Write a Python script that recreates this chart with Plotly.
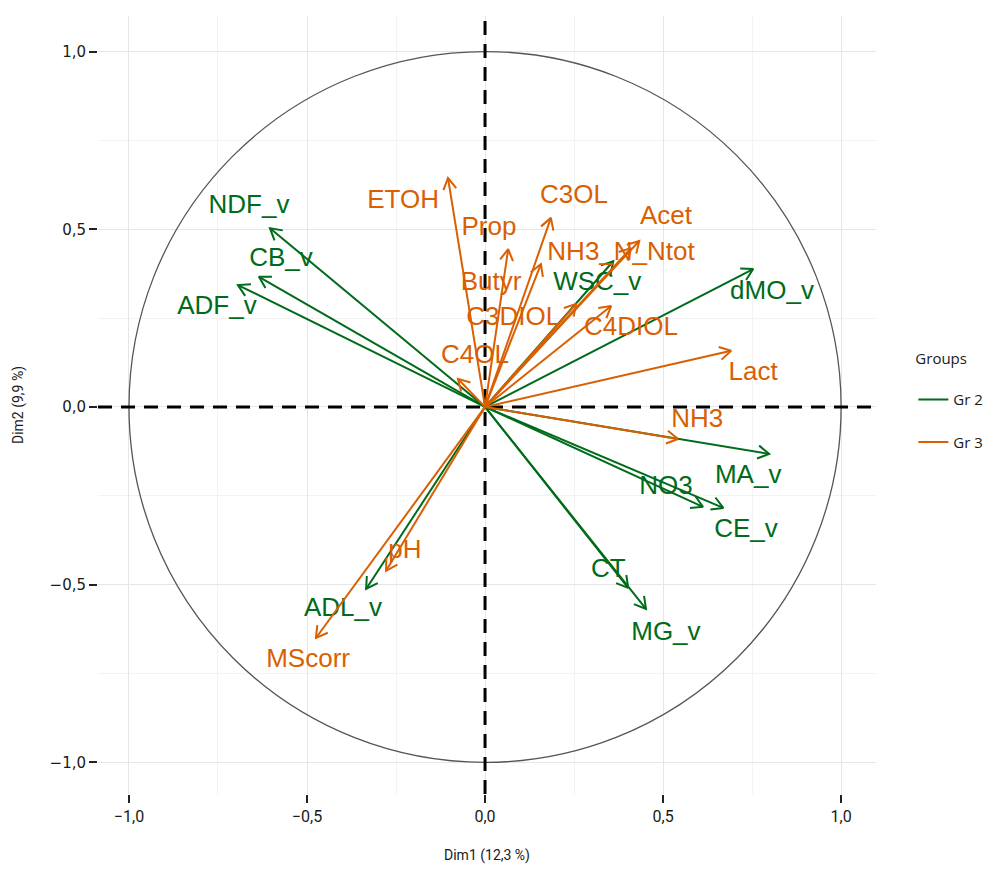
import math
import plotly.graph_objects as go

# ---------------- data ----------------
gr2_vars = ["NDF_v", "CB_v", "ADF_v", "WSC_v", "dMO_v", "MA_v", "CE_v", "NO3", "CT", "MG_v", "ADL_v"]
gr2_dim1 = [-0.604, -0.635, -0.694, 0.360, 0.753, 0.798, 0.669, 0.612, 0.402, 0.452, -0.334]
gr2_dim2 = [0.503, 0.366, 0.343, 0.410, 0.388, -0.132, -0.284, -0.281, -0.509, -0.568, -0.512]

gr3_vars = ["ETOH", "Prop", "C3OL", "Butyr", "Acet", "NH3_N_Ntot", "C3DIOL", "C4DIOL", "C4OL", "Lact", "NH3", "pH", "MScorr"]
gr3_dim1 = [-0.104, 0.065, 0.185, 0.157, 0.433, 0.410, 0.256, 0.354, -0.076, 0.691, 0.542, -0.278, -0.475]
gr3_dim2 = [0.644, 0.444, 0.532, 0.402, 0.467, 0.447, 0.290, 0.284, 0.079, 0.158, -0.090, -0.461, -0.650]

tick_vals = [-1.0, -0.5, 0.0, 0.5, 1.0]
x_title = "Dim1 (12,3 %)"
y_title = "Dim2 (9,9 %)"

# ---------------- label placement (offsets from arrow tips, data units) ----------------
label_offsets = {
    "NDF_v": (-0.059, 0.062), "CB_v": (0.062, 0.05), "ADF_v": (-0.059, -0.062),
    "WSC_v": (-0.045, -0.064), "dMO_v": (0.053, -0.067), "MA_v": (-0.059, -0.065),
    "CE_v": (0.064, -0.065), "NO3": (-0.104, 0.053), "CT": (-0.056, 0.05),
    "MG_v": (0.056, -0.068), "ADL_v": (-0.065, -0.059),
    "ETOH": (-0.126, -0.065), "Prop": (-0.054, 0.057), "C3OL": (0.065, 0.059),
    "Butyr": (-0.14, -0.056), "Acet": (0.075, 0.067), "NH3_N_Ntot": (-0.028, -0.014),
    "C3DIOL": (-0.177, -0.042), "C4DIOL": (0.056, -0.062), "C4OL": (0.048, 0.064),
    "Lact": (0.062, -0.065), "NH3": (0.054, 0.053), "pH": (0.053, 0.053),
    "MScorr": (-0.022, -0.064),
}

GREEN = "#006B1A"
ORANGE = "#D95F02"

X_RANGE = [-1.087, 1.098]
Y_RANGE = [-1.089, 1.100]
PLOT_W, PLOT_H = 778, 778
sx = PLOT_W / (X_RANGE[1] - X_RANGE[0])
sy = PLOT_H / (Y_RANGE[1] - Y_RANGE[0])
HEAD_PX = 13
HEAD_ANG = math.radians(30)


def arrow_paths(xs, ys):
    px, py = [], []
    for x, y in zip(xs, ys):
        px += [0, x, None]
        py += [0, y, None]
        ang = math.atan2(y * sy, x * sx)
        hx, hy = [], []
        for s in (1, -1):
            a = ang + math.pi + s * HEAD_ANG
            hx.append(x + HEAD_PX * math.cos(a) / sx)
            hy.append(y + HEAD_PX * math.sin(a) / sy)
        px += [hx[0], x, hx[1], None]
        py += [hy[0], y, hy[1], None]
    return px, py


fig = go.Figure()

# dashed reference axes through the origin (spanning the whole panel)
fig.add_trace(go.Scatter(
    x=[X_RANGE[0], X_RANGE[1], None, 0, 0], y=[0, 0, None, Y_RANGE[0], Y_RANGE[1]],
    mode="lines", line=dict(color="black", width=3, dash="14px,9px"),
    showlegend=False, hoverinfo="skip", cliponaxis=False,
))

for name, vars_, xs, ys, col in [
    ("Gr 2", gr2_vars, gr2_dim1, gr2_dim2, GREEN),
    ("Gr 3", gr3_vars, gr3_dim1, gr3_dim2, ORANGE),
]:
    ax_, ay_ = arrow_paths(xs, ys)
    fig.add_trace(go.Scatter(
        x=ax_, y=ay_, mode="lines", name=name,
        line=dict(color=col, width=2), hoverinfo="skip",
        legendgroup=name,
    ))
    lx = [x + label_offsets[v][0] for v, x in zip(vars_, xs)]
    ly = [y + label_offsets[v][1] for v, y in zip(vars_, ys)]
    fig.add_trace(go.Scatter(
        x=lx, y=ly, mode="text", text=vars_, showlegend=False,
        textposition="middle center",
        textfont=dict(family="Liberation Sans, Arial", size=26, color=col),
        legendgroup=name, hoverinfo="skip",
    ))

fig.add_shape(type="circle", xref="x", yref="y", x0=-1, y0=-1, x1=1, y1=1,
              line=dict(color="#555555", width=1.3), layer="between")

axis_common = dict(
    tickvals=tick_vals, tickformat=".1f",
    showgrid=True, gridcolor="#e6e6e6", gridwidth=1.2,
    zeroline=False, showline=False,
    ticks="outside", ticklen=8, tickwidth=2, tickcolor="#222222",
    minor=dict(dtick=0.25, showgrid=True, gridcolor="#f3f3f3", gridwidth=1, ticks=""),
)

fig.update_layout(
    width=1000, height=870,
    margin=dict(l=90, r=132, t=8, b=84),
    paper_bgcolor="white", plot_bgcolor="white",
    separators=", ",
    showlegend=True,
    xaxis=dict(range=X_RANGE, **axis_common,
               tickfont=dict(family="Roboto", size=16, color="#1a1a1a"),
               title=dict(text=x_title, standoff=24,
                          font=dict(family="Roboto", size=14, color="#1a1a1a"))),
    yaxis=dict(range=Y_RANGE, **axis_common,
               tickfont=dict(family="DejaVu Sans", size=15, color="#1a1a1a"),
               title=dict(text=y_title, standoff=22,
                          font=dict(family="Roboto", size=14, color="#1a1a1a"))),
    legend=dict(
        x=1.048, xanchor="left", y=0.578, yanchor="top",
        title=dict(text="Groups<br> ", font=dict(family="Open Sans", size=15, color="#1a1a1a")),
        font=dict(family="Open Sans", size=15, color="#1a1a1a"),
        bgcolor="rgba(0,0,0,0)", tracegroupgap=20,
    ),
)

fig.write_html("out.html")
